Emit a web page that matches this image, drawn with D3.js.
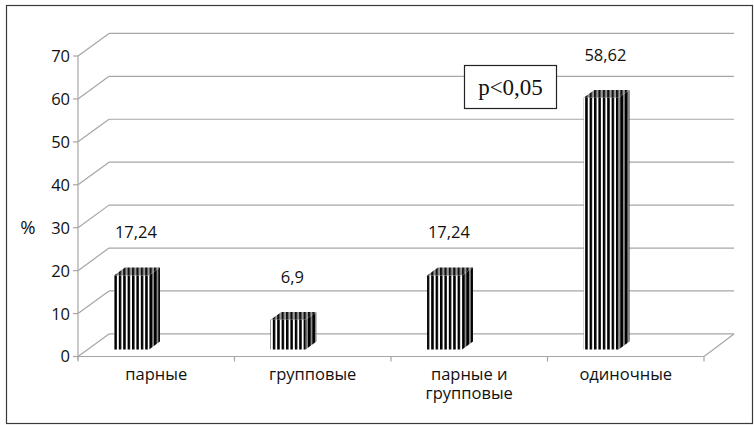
<!DOCTYPE html>
<html lang="ru">
<head>
<meta charset="UTF-8">
<script src="https://d3js.org/d3.v7.min.js"></script>
<style>
  body { margin: 0; background: #fff; }
  svg { display: block; }
</style>
</head>
<body>
<svg></svg>
<script>
// chart data
const categories = [["парные"], ["групповые"], ["парные и", "групповые"], ["одиночные"]];
const values = [17.24, 6.9, 17.24, 58.62];
const valueLabels = ["17,24", "6,9", "17,24", "58,62"];
const yTicks = [0, 10, 20, 30, 40, 50, 60, 70];

const width = 754, height = 425;
const svg = d3.select("svg").attr("width", width).attr("height", height);

// 3d depth of the floor
const depthX = 31, depthY = 22.6;

const x = d3.scaleBand().domain(d3.range(categories.length)).range([78, 704]);
const y = d3.scaleLinear().domain([0, 70]).range([356.5, 56]);

const gridColor = "#a6a6a6";
const textColor = "#111";

// stripe fills for the bars
const defs = svg.append("defs");
function stripes(id, a, b, w) {
  const p = defs.append("pattern").attr("id", id)
    .attr("patternUnits", "userSpaceOnUse")
    .attr("width", 4.4).attr("height", 10);
  p.append("rect").attr("width", 4.4).attr("height", 10).attr("fill", b);
  p.append("rect").attr("width", w).attr("height", 10).attr("fill", a);
}
stripes("front", "#000", "#fff", 2.5);
stripes("top", "#111", "#9a9a9a", 2.2);
stripes("side", "#000", "#8a8a8a", 2.6);

// outer frame
svg.append("rect")
  .attr("x", 6.5).attr("y", 5.5).attr("width", 746).attr("height", 418)
  .attr("fill", "none").attr("stroke", "#3a3a3a").attr("stroke-width", 1.2);

const grid = svg.append("g").attr("stroke", gridColor).attr("fill", "none").attr("stroke-width", 1.2);

// back wall lines + left wall diagonals
yTicks.forEach(t => {
  const yy = y(t);
  grid.append("line")
    .attr("x1", 78 + depthX).attr("x2", 734)
    .attr("y1", yy - depthY).attr("y2", yy - depthY);
  grid.append("line")
    .attr("x1", 78).attr("y1", yy)
    .attr("x2", 78 + depthX).attr("y2", yy - depthY);
});

// floor front edge and right edge
grid.append("line").attr("x1", 78).attr("x2", 704).attr("y1", y(0)).attr("y2", y(0));
grid.append("line").attr("x1", 704).attr("y1", y(0)).attr("x2", 734).attr("y2", y(0) - depthY);

// y axis
grid.append("line").attr("x1", 78).attr("x2", 78).attr("y1", y(0) + 3).attr("y2", y(70));
yTicks.forEach(t => {
  grid.append("line").attr("x1", 73).attr("x2", 78).attr("y1", y(t)).attr("y2", y(t));
});
// category ticks
d3.range(categories.length + 1).forEach(i => {
  const xx = i < categories.length ? x(i) : x.range()[1];
  grid.append("line").attr("x1", xx).attr("x2", xx).attr("y1", y(0)).attr("y2", y(0) + 5);
});

svg.append("g").selectAll("text").data(yTicks).join("text")
  .attr("x", 70).attr("y", d => y(d))
  .attr("dy", "0.36em").attr("text-anchor", "end")
  .attr("font-family", "Open Sans").attr("font-size", 16.5).attr("fill", textColor)
  .text(d => d);

svg.append("text").attr("x", 28).attr("y", 234)
  .attr("text-anchor", "middle")
  .attr("font-family", "Open Sans").attr("font-size", 18.5).attr("fill", textColor)
  .text("%");

// bars
const d0 = 0.31, d1 = 0.66;
function pt(px, v, d) { return [px + depthX * d, y(v) - depthY * d]; }
const bars = svg.append("g");
values.forEach((v, i) => {
  const left = x(i) + x.bandwidth() * 0.169;
  const right = left + x.bandwidth() * 0.224;
  const poly = pts => pts.map(p => p.join(",")).join(" ");
  // front face
  bars.append("polygon")
    .attr("points", poly([pt(left, 0, d0), pt(right, 0, d0), pt(right, v, d0), pt(left, v, d0)]))
    .attr("fill", "url(#front)");
  // side face
  bars.append("polygon")
    .attr("points", poly([pt(right, 0, d0), pt(right, 0, d1), pt(right, v, d1), pt(right, v, d0)]))
    .attr("fill", "url(#side)");
  // top face
  bars.append("polygon")
    .attr("points", poly([pt(left, v, d0), pt(right, v, d0), pt(right, v, d1), pt(left, v, d1)]))
    .attr("fill", "url(#top)");
});

// value labels
svg.append("g").selectAll("text").data(values).join("text")
  .attr("x", (d, i) => x(i) + x.bandwidth() * 0.37)
  .attr("y", d => y(d) - 44)
  .attr("text-anchor", "middle")
  .attr("font-family", "Open Sans").attr("font-size", 16.5).attr("fill", textColor)
  .text((d, i) => valueLabels[i]);

// category labels
const cat = svg.append("g");
categories.forEach((lines, i) => {
  const t = cat.append("text")
    .attr("x", x(i) + x.bandwidth() / 2).attr("y", 380)
    .attr("text-anchor", "middle")
    .attr("font-family", "Open Sans").attr("font-size", 16.5).attr("fill", textColor);
  lines.forEach((l, j) => {
    t.append("tspan").attr("x", x(i) + x.bandwidth() / 2).attr("dy", j ? 19 : 0).text(l);
  });
});

// significance box
svg.append("rect")
  .attr("x", 464.5).attr("y", 65.5).attr("width", 92).attr("height", 43)
  .attr("fill", "#fff").attr("stroke", "#222").attr("stroke-width", 1.2);
svg.append("text").attr("x", 510.5).attr("y", 95)
  .attr("text-anchor", "middle")
  .attr("font-family", "Liberation Serif").attr("font-size", 23).attr("fill", "#111")
  .text("p<0,05");
</script>
</body>
</html>
